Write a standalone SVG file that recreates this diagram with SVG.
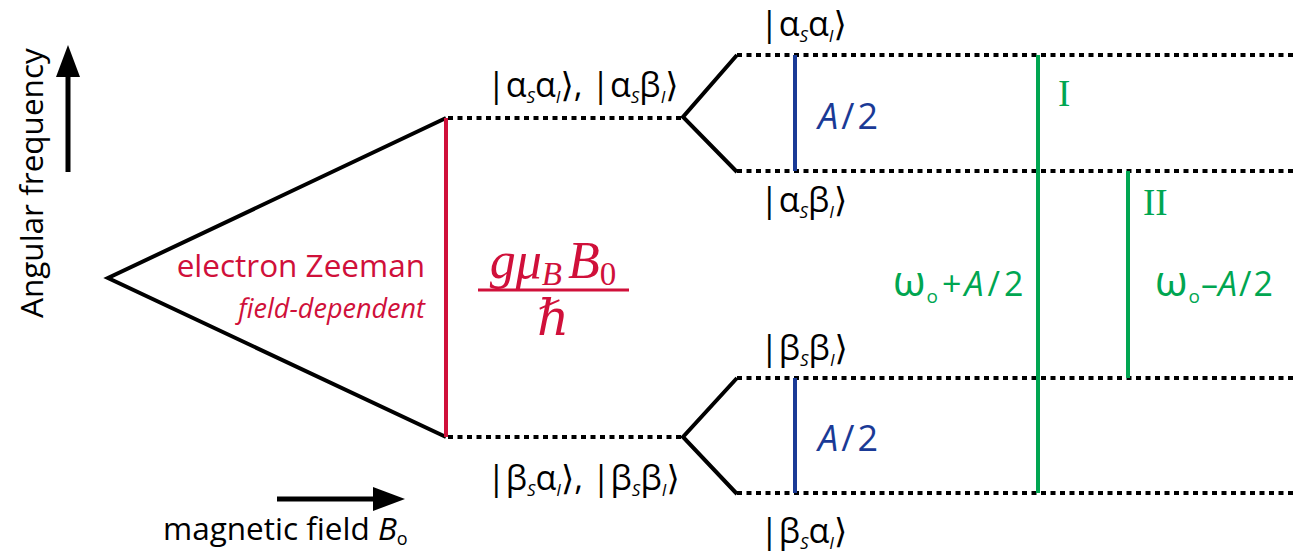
<svg xmlns="http://www.w3.org/2000/svg" width="1293" height="555" viewBox="0 0 1293 555">
<style>
.blk{stroke:#000;stroke-width:4;fill:none;stroke-linejoin:miter}
.dot{stroke:#000;stroke-width:4;fill:none;stroke-dasharray:5 4.5}
.ket{font-family:"Open Sans","DejaVu Sans",sans-serif;font-size:34px;fill:#000}
.sub{font-size:17px;font-style:italic}
.red{fill:#d0103a}
.blue{fill:#1a3a96}
.green{fill:#00a651}
.lbl{font-family:"Open Sans","DejaVu Sans",sans-serif}
</style>
<g id="connectors">
<polyline class="blk" points="446,118 108,278 446,437" stroke-width="3.5"/>
<line x1="446" y1="118" x2="446" y2="437" stroke="#d0103a" stroke-width="4"/>
<line class="dot" x1="448" y1="118" x2="682" y2="118"/>
<line class="dot" x1="448" y1="437" x2="682" y2="437"/>
<polyline class="blk" points="737,55 683,117 737,172"/>
<polyline class="blk" points="737,378 683,437 737,494"/>
<line class="dot" x1="737" y1="55" x2="1293" y2="55"/>
<line class="dot" x1="737" y1="171" x2="1293" y2="171"/>
<line class="dot" x1="737" y1="378" x2="1293" y2="378"/>
<line class="dot" x1="737" y1="493" x2="1293" y2="493"/>
<line x1="795" y1="55" x2="795" y2="171" stroke="#1a3a96" stroke-width="4"/>
<line x1="795" y1="378" x2="795" y2="493" stroke="#1a3a96" stroke-width="4"/>
<line x1="1038" y1="55" x2="1038" y2="493" stroke="#00a651" stroke-width="4"/>
<line x1="1128" y1="171" x2="1128" y2="378" stroke="#00a651" stroke-width="4"/>
<path d="M68,172 V75" stroke="#000" stroke-width="5"/>
<path d="M56,77 L68,45 L80,77 Z" fill="#000"/>
<path d="M277,499 H375" stroke="#000" stroke-width="5"/>
<path d="M373,487 L405,499 L373,511 Z" fill="#000"/>
</g>
<g id="axis-labels" class="lbl">
<text x="0" y="0" transform="translate(43,318) rotate(-90)" font-size="31.5" fill="#000">Angular frequency</text>
<text x="163" y="540" font-size="31.5" fill="#000">magnetic field <tspan font-style="italic">B</tspan><tspan font-size="18" dy="5">o</tspan></text>
</g>
<g id="zeeman-label" class="lbl">
<text x="425" y="277" font-size="31.5" text-anchor="end" class="red">electron Zeeman</text>
<text x="425" y="318" font-size="27" font-style="italic" text-anchor="end" class="red">field-dependent</text>
</g>
<g id="fraction">
<text x="553" y="278" font-family="'Liberation Serif',serif" font-style="italic" font-size="52" text-anchor="middle" class="red">gμ<tspan font-size="33" dy="7">B</tspan><tspan dy="-7" dx="6">B</tspan><tspan font-style="normal" font-size="33" dy="7">0</tspan></text>
<line x1="478" y1="290" x2="629" y2="290" stroke="#d0103a" stroke-width="3"/>
<text x="553" y="335" font-family="'Liberation Serif','DejaVu Serif',serif" font-style="italic" font-size="50" text-anchor="middle" class="red">ℏ</text>
</g>
<g id="ket-upper-pair">
<text class="ket" x="487" y="97">|α<tspan class="sub" dy="6">S</tspan><tspan dy="-6">α</tspan><tspan class="sub" dy="6">I</tspan><tspan dy="-6">⟩, |α</tspan><tspan class="sub" dy="6">S</tspan><tspan dy="-6">β</tspan><tspan class="sub" dy="6">I</tspan><tspan dy="-6">⟩</tspan></text>
</g>
<g id="ket-lower-pair">
<text class="ket" x="487" y="490">|β<tspan class="sub" dy="6">S</tspan><tspan dy="-6">α</tspan><tspan class="sub" dy="6">I</tspan><tspan dy="-6">⟩, |β</tspan><tspan class="sub" dy="6">S</tspan><tspan dy="-6">β</tspan><tspan class="sub" dy="6">I</tspan><tspan dy="-6">⟩</tspan></text>
</g>
<g id="ket-aa">
<text class="ket" x="760" y="36">|α<tspan class="sub" dy="6">S</tspan><tspan dy="-6">α</tspan><tspan class="sub" dy="6">I</tspan><tspan dy="-6">⟩</tspan></text>
</g>
<g id="ket-ab">
<text class="ket" x="760" y="212">|α<tspan class="sub" dy="6">S</tspan><tspan dy="-6">β</tspan><tspan class="sub" dy="6">I</tspan><tspan dy="-6">⟩</tspan></text>
</g>
<g id="ket-bb">
<text class="ket" x="760" y="360">|β<tspan class="sub" dy="6">S</tspan><tspan dy="-6">β</tspan><tspan class="sub" dy="6">I</tspan><tspan dy="-6">⟩</tspan></text>
</g>
<g id="ket-ba">
<text class="ket" x="760" y="543">|β<tspan class="sub" dy="6">S</tspan><tspan dy="-6">α</tspan><tspan class="sub" dy="6">I</tspan><tspan dy="-6">⟩</tspan></text>
</g>
<g id="hyperfine-labels" class="lbl">
<text x="818" y="129" font-size="36" font-style="italic" class="blue">A<tspan font-style="normal" dx="3">/</tspan><tspan font-style="normal" dx="3">2</tspan></text>
<text x="818" y="451" font-size="36" font-style="italic" class="blue">A<tspan font-style="normal" dx="3">/</tspan><tspan font-style="normal" dx="3">2</tspan></text>
</g>
<g id="transition-labels">
<text x="1058" y="106" font-family="'Liberation Serif',serif" font-size="37" class="green">I</text>
<text x="1143" y="215" font-family="'Liberation Serif',serif" font-size="37" class="green">II</text>
<text x="893" y="296" class="lbl green" font-size="34"><tspan font-size="42">ω</tspan><tspan font-size="19" dy="7" dx="1">o</tspan><tspan dy="-7" dx="4">+</tspan><tspan font-style="italic" dx="3">A</tspan><tspan dx="4">/</tspan><tspan dx="4">2</tspan></text>
<text x="1155" y="296" class="lbl green" font-size="34"><tspan font-size="42">ω</tspan><tspan font-size="19" dy="7" dx="1">o</tspan><tspan dy="-7" dx="1">–</tspan><tspan font-style="italic">A</tspan><tspan dx="2">/</tspan><tspan dx="2">2</tspan></text>
</g>
</svg>
